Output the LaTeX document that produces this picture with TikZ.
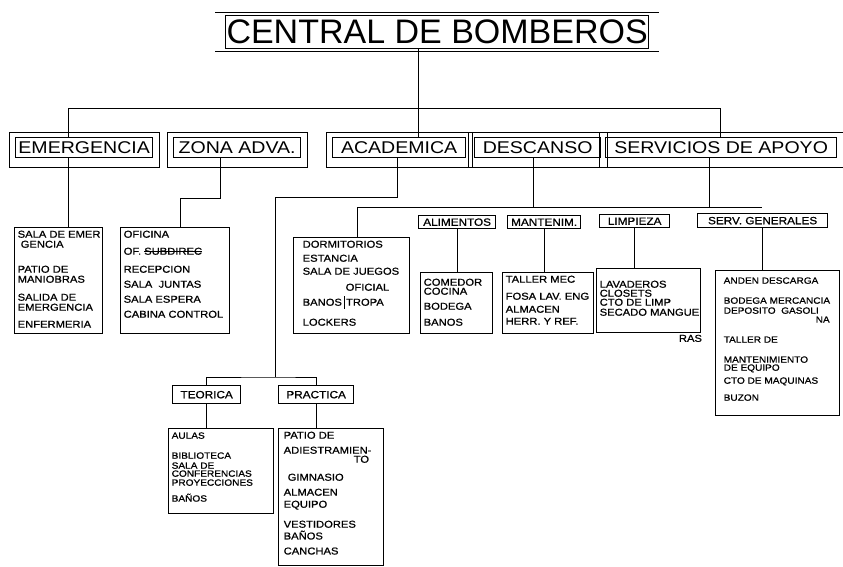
\documentclass[tikz,border=0pt]{standalone}
\usepackage{fontspec}
\newfontfamily\titlefam{Liberation Sans}
\newfontfamily\stencil[FakeStretch=1.15]{Liberation Sans}
\newfontfamily\itemfam[FakeStretch=1.12,FakeBold=0.8]{Liberation Sans}
\newcommand{\titlefont}{\titlefam\fontsize{34}{36}\selectfont}
\newcommand{\areafont}{\stencil\fontsize{17}{18}\selectfont}
\newcommand{\headfont}{\itemfam\fontsize{10.5}{12}\selectfont}
\newcommand{\itemfont}{\itemfam\fontsize{10}{10}\selectfont}
\newcommand{\smallitemfont}{\itemfam\fontsize{9}{10}\selectfont}
\newcommand{\itemlist}[3]{\parbox[c][#2][t]{#1}{\begin{tabular}[t]{@{}l@{}}#3\end{tabular}}}
\newcommand{\strikeout}[1]{\setbox0\hbox{#1}\rlap{\rule[3pt]{\wd0}{0.7pt}}\box0}
\begin{document}
\begin{tikzpicture}[x=1pt, y=-1pt, line width=0.9pt,
  titlebox/.style={draw, line width=1.3pt, anchor=north west, inner sep=0pt, font=\titlefont},
  areabox/.style={draw, line width=1.3pt, anchor=north west, inner sep=1pt, minimum height=20pt, font=\areafont},
  headbox/.style={draw, line width=1.3pt, anchor=north west, inner sep=1pt, minimum height=13pt, font=\headfont},
  listbox/.style={draw, line width=1.4pt, anchor=north west, inner sep=3pt, font=\itemfont},
  outerline/.style={line width=0.6pt}]
\fill[white] (0,0) rectangle (843,567);
\useasboundingbox (0,0) rectangle (843,567);

% title
\node[titlebox, minimum width=423pt, minimum height=33pt] (title) at (225,15) {CENTRAL DE BOMBEROS};
\draw[outerline] ([xshift=-10pt,yshift=3pt]title.north west) -- ([xshift=10pt,yshift=3pt]title.north east);
\draw[outerline] ([xshift=-10pt,yshift=-2pt]title.south west) -- ([xshift=10pt,yshift=-2pt]title.south east);

% areas
\node[areabox, minimum width=137pt] (emerg) at (15,137) {EMERGENCIA};
\node[areabox, minimum width=127pt] (zona) at (173,137) {ZONA ADVA.};
\node[areabox, minimum width=133pt] (acad) at (332,137) {ACADEMICA};
\node[areabox, minimum width=126pt] (desc) at (474,137) {DESCANSO};
\node[areabox, minimum width=231pt] (serv) at (605,137) {SERVICIOS DE APOYO};
\foreach \n in {emerg,zona,acad,desc,serv}
  \draw[outerline] ([xshift=-6pt,yshift=5pt]\n.north west) rectangle ([xshift=6pt,yshift=-9pt]\n.south east);

\coordinate (busL) at (68,108);
\coordinate (busR) at (720,108);
\coordinate (trunk) at (418,108);
\draw (busL |- emerg.north) -- (busL) -- (busR) -- (busR |- serv.north);
\draw (trunk |- title.south) -- (trunk |- acad.north);

% emergencia / zona adva
\node[listbox] (emergsub) at (14,227) {\itemlist{82pt}{100pt}{SALA DE EMER\\\hspace*{3pt}GENCIA\\[15pt]
  PATIO DE\\MANIOBRAS\\[8pt]SALIDA DE\\EMERGENCIA\\[7pt]ENFERMERIA}};
\node[listbox] (zonasub) at (120,227) {\itemlist{103pt}{100pt}{OFICINA\\[7pt]OF. \strikeout{SUBDIREC}\\[8pt]
  RECEPCION\\[5pt]SALA\ \ JUNTAS\\[5pt]SALA ESPERA\\[5pt]CABINA CONTROL}};
\draw (busL |- emerg.south) -- (busL |- emergsub.north);
\coordinate (zonaA) at (220,198);
\coordinate (zonaB) at (180,198);
\draw (zonaA |- zona.south) -- (zonaA) -- (zonaB) -- (zonaB |- zonasub.north);

% academica
\node[headbox, minimum width=68pt, minimum height=18pt] (teorica) at (172,385) {TEORICA};
\node[headbox, minimum width=75pt, minimum height=18pt] (practica) at (278,385) {PRACTICA};
\node[listbox, font=\smallitemfont] (aulassub) at (168,428) {\itemlist{99pt}{79pt}{AULAS\\[10pt]BIBLIOTECA\\[0pt]
  SALA DE\\[-2pt]CONFERENCIAS\\[-1pt]PROYECCIONES\\[5pt]BAÑOS}};
\node[listbox, inner xsep=5pt] (patiosub) at (278,428) {\itemlist{95pt}{131pt}{PATIO DE\\[5pt]ADIESTRAMIEN-\\[-1pt]
  \hspace*{70pt}TO\\[8pt]\hspace*{4pt}GIMNASIO\\[5pt]ALMACEN\\[2pt]EQUIPO\\[10pt]VESTIDORES\\[0pt]BAÑOS\\[5pt]CANCHAS}};
\coordinate (acadA) at (397,197);
\coordinate (acadB) at (275,377);
\draw (acadA |- acad.south) -- (acadA) -| (acadB);
\draw (teorica.north) |- (acadB) -| (practica.north);
\draw (teorica.south) -- (teorica.south |- aulassub.north);
\draw (practica.south) -- (practica.south |- patiosub.north);

% descanso / servicios de apoyo
\node[headbox, minimum width=77pt] (alim) at (418,215) {ALIMENTOS};
\node[headbox, minimum width=73pt] (mant) at (507,215) {MANTENIM.};
\node[headbox, minimum width=70pt] (limp) at (599,214) {LIMPIEZA};
\node[headbox, minimum width=130pt, minimum height=14pt] (servgen) at (697,213) {SERV. GENERALES};

\node[listbox, inner xsep=9pt] (dormsub) at (293,237) {\itemlist{98pt}{90pt}{DORMITORIOS\\[4pt]ESTANCIA\\[3pt]
  SALA DE JUEGOS\\[6pt]\hspace*{43pt}OFICIAL\\[2pt]BANOS\,\rule[-3pt]{0.8pt}{13pt}\,TROPA\\[10pt]LOCKERS}};
\node[listbox] (comsub) at (420,272) {\itemlist{66pt}{55pt}{\rule{0pt}{10pt}COMEDOR\\[-1pt]COCINA\\[5pt]
  BODEGA\\[6pt]BANOS}};
\node[listbox] (mantsub) at (502,272) {\itemlist{85pt}{55pt}{TALLER MEC\\[7pt]FOSA LAV. ENG\\[3pt]
  ALMACEN\\[2pt]HERR. Y REF.}};
\node[listbox] (limpsub) at (596,268) {\itemlist{98pt}{58pt}{\rule{0pt}{16pt}LAVADEROS\\[-1pt]CLOSETS\\[-1pt]
  CTO DE LIMP\\[0pt]SECADO MANGUE}};
\node[font=\itemfont, anchor=north east, inner sep=1pt] (limpras) at ([xshift=2pt]limpsub.south east) {RAS};
\node[listbox, font=\smallitemfont, inner xsep=8pt] (servgensub) at (715,270) {\itemlist{108pt}{139pt}{\rule{0pt}{10pt}ANDEN DESCARGA\\[10pt]
  BODEGA MERCANCIA\\[0pt]DEPOSITO\ \ GASOLI\\[-1pt]\makebox[106pt][r]{NA}\\[10pt]TALLER DE\\[10pt]
  MANTENIMIENTO\\[-2pt]DE EQUIPO\\[3pt]CTO DE MAQUINAS\\[7pt]BUZON}};

\coordinate (descA) at (533,207);
\coordinate (servA) at (709,207);
\coordinate (subL) at (357,207);
\coordinate (subR) at (762,207);
\draw (descA |- desc.south) -- (descA);
\draw (servA |- serv.south) -- (servA);
\draw (subL |- dormsub.north) -- (subL) -- (subR);
\draw (alim.south) -- (alim.south |- comsub.north);
\draw (mant.south) -- (mant.south |- mantsub.north);
\draw (limp.south) -- (limp.south |- limpsub.north);
\draw (servgen.south) -- (servgen.south |- servgensub.north);
\end{tikzpicture}
\end{document}
